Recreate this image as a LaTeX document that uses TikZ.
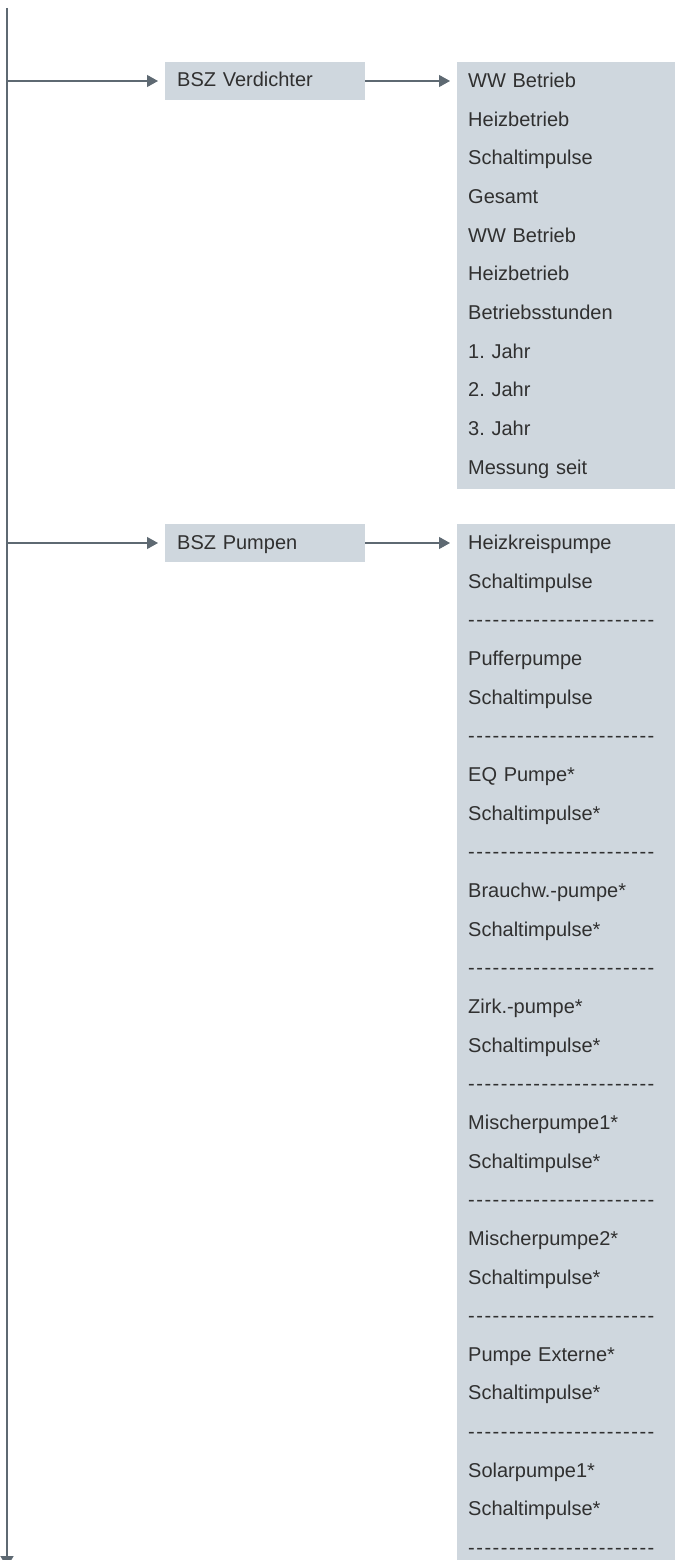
\documentclass[tikz,border=0pt]{standalone}
\usepackage{fontspec}
\setmainfont{Liberation Sans}
\newfontfamily\dashfont[LetterSpace=7.5,Ligatures=TeXOff]{Liberation Sans}
\usetikzlibrary{arrows.meta, positioning}
\usepackage{xcolor}
\definecolor{menubg}{RGB}{207, 215, 222}
\definecolor{linegrey}{RGB}{94, 105, 114}
\definecolor{textdark}{RGB}{48, 48, 48}
\newcommand{\dashrow}{{\dashfont -----------------------}}
\frenchspacing

\begin{document}
\begin{tikzpicture}[
    x=1pt, y=-1pt,
    menu/.style={rectangle, anchor=west, fill=menubg, minimum height=38pt, text width=176pt, inner xsep=12pt, align=left, text=textdark, font=\fontsize{20}{24}\selectfont, text height=14pt, text depth=2pt},
    list/.style={rectangle, anchor=north west, fill=menubg, text width=196pt, inner xsep=11pt, inner ysep=11pt, align=left, text=textdark, font=\fontsize{20}{38.65}\selectfont},
    trunk/.style={-{Triangle[length=11pt, width=13pt]}, line width=1.8pt, color=linegrey},
    branch/.style={-{Triangle[length=11pt, width=12pt]}, line width=1.2pt, color=linegrey, shorten >=7pt}
]
\useasboundingbox (0,0) rectangle (675,1560);

% Main line
\coordinate (trunktop) at (7,8);
\coordinate (trunkend) at (7,1567);
\coordinate (fork1) at (7,81);
\coordinate (fork2) at (7,543);

% Menu entries
\node[menu] (verd) at (165,81) {BSZ Verdichter};
\node[menu] (pump) at (165,543) {BSZ Pumpen};

% Sub menus
\node[list] (verdlist) at (457,62) {WW Betrieb\\Heizbetrieb\\Schaltimpulse\\Gesamt\\WW Betrieb\\Heizbetrieb\\Betriebsstunden\\1. Jahr\\2. Jahr\\3. Jahr\\Messung seit};
\node[list] (pumplist) at (457,524) {Heizkreispumpe\\Schaltimpulse\\\dashrow\\Pufferpumpe\\Schaltimpulse\\\dashrow\\EQ Pumpe*\\Schaltimpulse*\\\dashrow\\Brauchw.-pumpe*\\Schaltimpulse*\\\dashrow\\Zirk.-pumpe*\\Schaltimpulse*\\\dashrow\\Mischerpumpe1*\\Schaltimpulse*\\\dashrow\\Mischerpumpe2*\\Schaltimpulse*\\\dashrow\\Pumpe Externe*\\Schaltimpulse*\\\dashrow\\Solarpumpe1*\\Schaltimpulse*\\\dashrow};

% Arrows
\draw[trunk] (trunktop) -- (trunkend);
\draw[branch] (fork1) -- (verd);
\draw[branch] (fork2) -- (pump);
\draw[branch] (verd) -- (verd.east -| verdlist.west);
\draw[branch] (pump) -- (pump.east -| pumplist.west);

\end{tikzpicture}
\end{document}
